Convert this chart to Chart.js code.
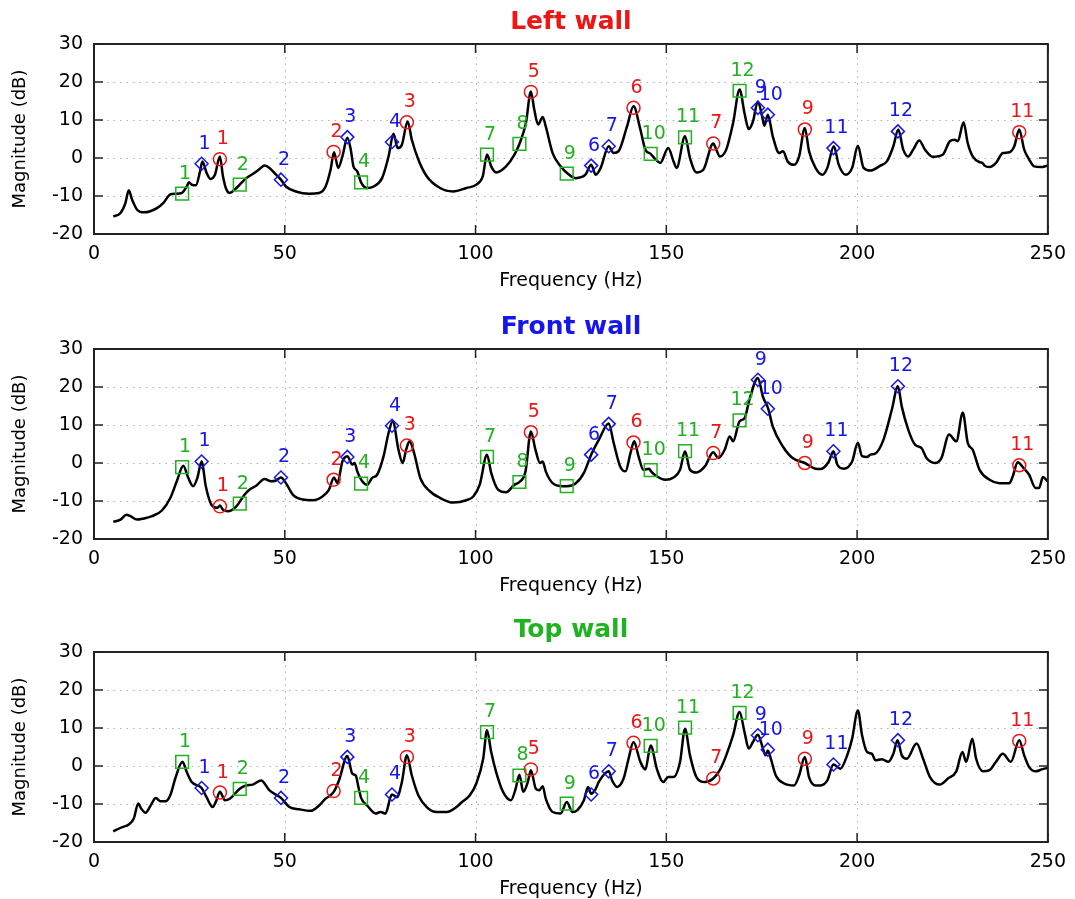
<!DOCTYPE html>
<html>
<head>
<meta charset="utf-8">
<script src="https://cdn.jsdelivr.net/npm/chart.js@4.4.1/dist/chart.umd.min.js"></script>
<style>
  body { margin: 0; background: #fff; overflow: hidden; }
  canvas { position: absolute; left: 0; }
</style>
</head>
<body>
<canvas id="left" width="1075" height="300" style="top:0px"></canvas>
<canvas id="front" width="1075" height="300" style="top:305px"></canvas>
<canvas id="top" width="1075" height="300" style="top:608px"></canvas>
<script>
// frequency response curves (Hz, dB)
const leftFreq = [5.05, 6.95, 8.25, 9.1, 10.0, 11.3, 13.0, 14.76, 16.5, 18.2, 20.0, 21.3, 23.0, 24.3, 24.9, 25.6, 26.7, 27.8, 28.4, 29.5, 30.5, 31.7, 33.0, 33.8, 34.7, 35.6, 37.3, 38.2, 39.9, 42.1, 43.4, 44.7, 46.0, 47.7, 49.0, 50.3, 52.9, 56.4, 59.0, 60.7, 62.0, 62.9, 64.0, 65.1, 66.4, 67.3, 68.0, 69.0, 70.0, 71.6, 73.3, 75.5, 77.2, 78.5, 79.6, 80.7, 82.2, 83.3, 85.0, 87.2, 90.7, 94.1, 97.6, 100.2, 101.9, 103.0, 104.1, 105.4, 108.0, 110.2, 111.5, 113.2, 114.5, 115.4, 116.4, 117.6, 118.4, 120.2, 122.3, 123.9, 126.2, 128.8, 130.3, 131.5, 132.8, 134.9, 136.2, 137.5, 139.7, 141.4, 143.2, 144.5, 145.9, 147.1, 148.4, 150.5, 151.9, 152.7, 154.9, 156.2, 157.9, 159.7, 162.3, 163.1, 164.0, 165.7, 167.5, 169.2, 170.5, 171.6, 172.7, 174.0, 175.1, 175.7, 176.6, 177.9, 179.6, 180.6, 181.8, 183.5, 184.8, 186.3, 187.4, 189.1, 190.9, 192.2, 193.9, 195.2, 197.0, 198.7, 200.2, 201.7, 203.5, 206.1, 207.8, 209.5, 210.8, 212.1, 213.4, 214.7, 216.3, 217.8, 219.9, 222.5, 224.3, 225.6, 226.4, 227.9, 229.0, 230.3, 232.1, 232.9, 233.4, 234.7, 236.4, 238.2, 239.9, 241.2, 242.5, 243.8, 245.1, 246.4, 248.2, 249.9]
const leftMag = [-15.4, -14.5, -11.8, -8.5, -11, -13.6, -14.3, -14.0, -13.2, -11.8, -9.6, -9.4, -9.2, -7.5, -6.4, -7.0, -7.2, -3.5, -0.9, -3.9, -5.5, -4.4, 0.4, -4.8, -8.3, -9.2, -7.9, -7.0, -5.3, -3.9, -2.9, -2.0, -2.6, -4.4, -5.7, -7.5, -8.8, -9.4, -9.2, -7.5, -3.1, 1.5, -2.6, 0.4, 5.3, 2.2, -2.2, -3.5, -6.4, -7.9, -7.5, -5.3, 0.4, 6.4, 2.6, 3.5, 9.6, 4.8, -0.4, -4.8, -7.9, -8.8, -7.9, -7.0, -4.8, 0.9, -2.2, -3.8, -2.2, 0.9, 3.7, 9.2, 17.5, 12.7, 8.8, 10.8, 8.3, 1.3, -2.2, -3.9, -5.3, -4.4, -1.8, -4.4, -2.6, 3.1, 1.3, 1.8, 8.3, 13.6, 7.5, 2.2, 1.1, -0.3, -1.3, 2.6, -0.9, -2.6, 5.7, 0, -3.8, -3.1, 3.8, 2.2, 0.4, 2.2, 9.2, 18.0, 11.8, 7.6, 9.6, 14.9, 11.0, 8.5, 11.4, 5.7, 1.3, 1.8, -0.9, -1.8, 0.4, 7.9, 1.8, -2.6, -4.4, -2.6, 3.1, -1.8, -4.4, -2.6, 3.2, -2.6, -3.3, -2.0, -0.9, 3.1, 7.5, 2.2, 0.4, 2.2, 4.6, 2.2, 0.3, 0.9, 4.4, 4.8, 4.4, 9.4, 3.9, 0.4, -1.1, -1.3, -2.0, -2.4, -1.3, 1.3, 1.5, 3.1, 7.5, 2.2, -0.4, -2.2, -2.4, -2.0]

const frontFreq = [5.05, 6.95, 8.5, 9.55, 11.3, 13.0, 15.2, 17.8, 20.0, 21.7, 23.4, 24.7, 26.0, 27.1, 28.2, 29.3, 30.8, 32.3, 33.0, 33.8, 35.1, 37.3, 39.5, 40.8, 42.5, 44.7, 46.4, 47.7, 49.0, 50.3, 52.1, 54.7, 57.3, 59.9, 61.6, 62.9, 63.8, 65.1, 66.4, 67.7, 68.3, 69.0, 70.3, 71.6, 72.9, 74.2, 75.9, 77.2, 78.3, 79.8, 80.9, 81.8, 82.7, 83.9, 85.5, 88.1, 90.7, 94.1, 97.6, 99.4, 101.1, 103.0, 104.1, 105.9, 108.0, 110.2, 111.5, 113.1, 114.5, 115.7, 116.9, 117.6, 118.4, 120.2, 122.8, 123.9, 126.2, 128.4, 130.3, 132.3, 134.9, 136.2, 137.9, 139.3, 140.6, 141.6, 142.7, 144.0, 145.5, 146.0, 147.5, 149.7, 151.9, 153.6, 154.9, 156.2, 157.9, 160.1, 162.3, 163.6, 165.3, 166.6, 167.5, 169.2, 170.5, 171.8, 174.0, 175.3, 176.7, 177.9, 180.5, 183.1, 186.3, 189.1, 190.4, 192.6, 193.8, 194.8, 196.5, 198.7, 200.2, 201.3, 202.6, 203.5, 204.8, 206.9, 209.1, 210.7, 211.7, 213.4, 215.2, 216.9, 218.2, 220.4, 222.1, 224.1, 226.0, 227.7, 229.0, 230.3, 232.1, 234.7, 237.3, 239.9, 240.8, 242.1, 243.6, 245.1, 246.8, 247.7, 248.7, 249.9]
const frontMag = [-15.5, -14.9, -13.6, -14.0, -14.9, -14.6, -14.0, -12.5, -9.2, -4.8, -0.7, -3.9, -6.1, -3.9, 0.4, -6.1, -11.0, -11.8, -11.2, -12.3, -12.7, -11.4, -8.3, -7.0, -6.0, -4.2, -4.8, -4.6, -3.8, -5.3, -8.3, -9.6, -9.8, -8.8, -7.0, -3.8, -5.3, 0.4, 1.8, -0.4, 0, -2.2, -4.8, -5.7, -3.9, -3.1, 1.8, 7.9, 11.0, 3.5, 0, 3.5, 5.7, 2.6, -3.9, -7.5, -9.2, -10.4, -9.8, -8.8, -5.7, 2.2, -2.6, -7.0, -7.7, -5.7, -5.0, -2.2, 8.3, 3.5, 0, 0.4, -2.2, -5.3, -6.1, -6.1, -5.4, -2.6, 2.2, 6.1, 10.4, 5.3, -0.9, -2.2, 2.6, 5.7, 1.8, -1.8, -1.5, -2.2, -3.5, -4.4, -3.8, -1.8, 3.1, -1.8, -2.5, -0.9, 2.8, 1.3, 3.5, 7.0, 5.7, 11.0, 11.8, 16.7, 22.4, 17.5, 14.3, 9.6, 4.4, 1.3, 0, -1.5, -1.6, 0.4, 3.1, -0.4, -1.5, 0.4, 5.3, 1.8, 1.6, 2.2, 2.5, 6.1, 14.0, 20.2, 14.9, 8.8, 4.8, 3.9, 1.3, 0, 1.3, 7.5, 5.7, 13.2, 5.3, 3.5, -1.8, -4.4, -5.3, -5.3, -3.5, 0.2, -1.3, -3.1, -6.6, -6.6, -3.7, -4.8]

const topFreq = [5.05, 7.4, 9.1, 10.4, 11.6, 12.3, 13.5, 14.8, 16.2, 17.4, 18.7, 20.0, 21.3, 23.2, 24.3, 25.6, 28.2, 29.5, 31.1, 31.9, 33.0, 34.3, 35.6, 38.2, 39.9, 41.6, 43.8, 46.0, 49.0, 51.2, 53.8, 56.8, 59.0, 60.7, 62.0, 62.9, 64.2, 66.4, 67.7, 68.6, 69.4, 70.0, 71.6, 73.8, 75.1, 76.4, 77.7, 78.1, 79.4, 80.7, 82.0, 83.3, 85.0, 87.2, 89.8, 92.4, 95.0, 96.3, 98.5, 100.2, 102.0, 103.0, 104.1, 105.4, 107.2, 109.3, 110.5, 111.5, 112.5, 113.7, 114.5, 115.8, 116.7, 117.6, 118.4, 120.2, 122.3, 123.9, 125.4, 126.7, 128.4, 129.5, 130.3, 131.5, 132.3, 134.9, 135.8, 137.1, 138.8, 140.1, 141.4, 143.2, 144.5, 145.9, 147.5, 149.2, 150.5, 151.9, 153.6, 154.9, 156.2, 157.9, 160.1, 162.3, 164.0, 165.7, 167.5, 169.2, 170.5, 171.6, 172.7, 174.0, 175.1, 176.0, 176.6, 177.4, 178.7, 180.9, 183.5, 184.8, 186.3, 187.4, 189.1, 190.4, 192.2, 193.8, 195.6, 197.4, 198.7, 200.2, 201.3, 202.6, 203.9, 204.8, 206.5, 208.2, 209.5, 210.6, 211.7, 213.0, 215.6, 217.3, 219.1, 221.7, 223.8, 226.0, 227.6, 228.6, 230.2, 231.2, 233.0, 234.7, 236.4, 238.2, 240.3, 242.5, 243.8, 245.1, 246.8, 248.4, 249.9]
const topMag = [-17.2, -16.1, -15.4, -13.9, -9.9, -11.1, -12.3, -10.5, -8.4, -9.3, -9.3, -7.7, -3.3, 1.1, -1.6, -4.2, -5.8, -8.2, -10.8, -9.5, -6.8, -9.0, -8.6, -6.0, -5.1, -4.9, -3.8, -6.4, -8.4, -10.8, -11.4, -11.8, -10.4, -8.6, -7.7, -6.7, -3.8, 2.6, -2.0, -2.5, -6.0, -8.4, -10.4, -12.5, -12.1, -12.5, -8.2, -7.5, -8.2, -4.2, 2.8, -2.5, -7.7, -10.8, -12.1, -12.1, -10.8, -9.6, -7.7, -4.6, 1.9, 9.4, 3.7, -1.6, -6.8, -9.0, -6.0, -2.3, -6.8, -4.2, -1.1, -6.0, -6.4, -5.3, -8.6, -12.1, -12.5, -9.5, -12.1, -11.6, -9.0, -5.5, -7.3, -6.0, -4.2, -1.4, -3.8, -5.5, -3.3, 1.9, 6.3, 1.1, -0.9, 5.4, -0.7, -4.2, -2.9, -2.9, 1.1, 9.8, 2.8, -2.9, -4.2, -3.3, -1.1, 2.8, 8.1, 14.2, 8.9, 4.6, 6.3, 8.2, 5.4, 2.8, 4.1, 1.9, -2.5, -4.6, -5.1, -2.5, 2.4, -2.9, -5.1, -5.1, -3.8, 0.4, -0.7, 2.8, 7.2, 14.6, 8.1, 3.7, 3.2, 1.5, 1.8, 1.1, 3.2, 6.8, 2.8, 1.9, 5.9, 1.9, -2.9, -4.9, -3.3, -1.4, 3.7, 1.1, 7.2, 1.9, -1.4, -1.1, 1.1, 3.2, 1.1, 6.8, 2.8, -0.3, -1.4, -0.9, -0.5]

// mode markers: frequencies and numbers
const redFreq = [33.0, 62.8, 82.0, 114.5, 141.4, 162.3, 186.3, 242.5]
const redLabels = ["1", "2", "3", "5", "6", "7", "9", "11"]
const blueFreq = [28.2, 49.0, 66.4, 78.1, 130.3, 134.9, 174.0, 176.6, 193.8, 210.7]
const blueLabels = ["1", "2", "3", "4", "6", "7", "9", "10", "11", "12"]
const greenFreq = [23.1, 38.2, 70.0, 103.0, 111.5, 123.9, 145.9, 154.9, 169.2]
const greenLabels = ["1", "2", "4", "7", "8", "9", "10", "11", "12"]

const leftRed = [-0.3, 1.6, 9.4, 17.4, 13.2, 3.8, 7.5, 6.8]
const leftBlue = [-1.5, -5.7, 5.5, 4.2, -2.0, 3.1, 13.2, 11.4, 2.6, 7.0]
const leftGreen = [-9.4, -7.0, -6.4, 0.9, 3.7, -4.1, 1.1, 5.4, 17.7]
const frontRed = [-11.4, -4.4, 4.6, 8.1, 5.4, 2.6, 0.0, -0.6]
const frontBlue = [0.4, -3.8, 1.6, 9.8, 2.2, 10.3, 21.9, 14.3, 3.1, 20.2]
const frontGreen = [-1.1, -10.7, -5.4, 1.6, -5.0, -6.1, -1.9, 3.1, 11.2]
const topRed = [-7.0, -6.6, 2.4, -0.9, 6.1, -3.3, 1.9, 6.6]
const topBlue = [-5.8, -8.4, 2.4, -7.5, -7.5, -1.4, 8.1, 4.3, 0.4, 6.8]
const topGreen = [1.1, -6.0, -8.4, 8.9, -2.5, -9.9, 5.3, 10.1, 14.0]

const RED = "#f01515"
const BLUE = "#1515f0"
const GREEN = "#1fb31f"
const FONT = "DejaVu Sans"

const toPoints = (xs, ys) => xs.map((x, i) => ({ x: x, y: ys[i] }))

// dotted grid, frame and inward ticks like the original plot
const frame = {
    id: "frame",
    beforeDatasetsDraw(chart) {
        const { ctx, chartArea: a, scales } = chart
        ctx.save()
        ctx.strokeStyle = "#b0b0b0"
        ctx.lineWidth = 1
        ctx.setLineDash([1.5, 5])
        ctx.beginPath()
        scales.x.ticks.forEach(t => {
            const x = Math.round(scales.x.getPixelForValue(t.value)) + 0.5
            ctx.moveTo(x, a.top); ctx.lineTo(x, a.bottom)
        })
        scales.y.ticks.forEach(t => {
            const y = Math.round(scales.y.getPixelForValue(t.value)) + 0.5
            ctx.moveTo(a.left, y); ctx.lineTo(a.right, y)
        })
        ctx.stroke()
        ctx.restore()
    },
    afterDraw(chart) {
        const { ctx, chartArea: a, scales } = chart
        ctx.save()
        ctx.strokeStyle = "#222"
        ctx.lineWidth = 2
        ctx.strokeRect(a.left, a.top, a.right - a.left, a.bottom - a.top)
        ctx.lineWidth = 1.5
        ctx.beginPath()
        scales.x.ticks.forEach(t => {
            const x = scales.x.getPixelForValue(t.value)
            ctx.moveTo(x, a.bottom); ctx.lineTo(x, a.bottom - 9)
            ctx.moveTo(x, a.top); ctx.lineTo(x, a.top + 9)
        })
        scales.y.ticks.forEach(t => {
            const y = scales.y.getPixelForValue(t.value)
            ctx.moveTo(a.left, y); ctx.lineTo(a.left + 9, y)
            ctx.moveTo(a.right, y); ctx.lineTo(a.right - 9, y)
        })
        ctx.stroke()
        ctx.restore()
    }
}

// panel title, centred over the plot area
const panelTitle = {
    id: "panelTitle",
    afterDraw(chart, args, opts) {
        const { ctx, chartArea: a } = chart
        ctx.save()
        ctx.font = "bold 25px " + FONT
        ctx.fillStyle = opts.color
        ctx.textAlign = "center"
        ctx.textBaseline = "middle"
        ctx.fillText(opts.text, (a.left + a.right) / 2, 22)
        ctx.restore()
    }
}

// mode numbers above the markers
const markerLabels = {
    id: "markerLabels",
    afterDatasetsDraw(chart) {
        const ctx = chart.ctx
        ctx.save()
        ctx.font = "19px " + FONT
        ctx.textAlign = "center"
        ctx.textBaseline = "middle"
        chart.data.datasets.forEach((ds, i) => {
            if (!ds.pointLabels) return
            ctx.fillStyle = ds.pointBorderColor
            chart.getDatasetMeta(i).data.forEach((pt, j) => {
                ctx.fillText(ds.pointLabels[j], pt.x + 3, pt.y - 20)
            })
        })
        ctx.restore()
    }
}

const markerSet = (freqs, values, labels, color, style, radius) => {
    return {
        data: toPoints(freqs, values),
        pointLabels: labels,
        showLine: false,
        pointStyle: style,
        pointRadius: radius,
        pointBorderColor: color,
        pointBackgroundColor: "rgba(0,0,0,0)",
        pointBorderWidth: 1.5,
        borderColor: color
    }
}

const createPanel = (id, title, titleColor, freq, mag, red, blue, green) => {
    const ctx = document.getElementById(id).getContext("2d")

    const datasets = [
        markerSet(redFreq, red, redLabels, RED, "circle", 6.5),
        markerSet(blueFreq, blue, blueLabels, BLUE, "rectRot", 6.5),
        markerSet(greenFreq, green, greenLabels, GREEN, "rect", 9),
        {
            data: toPoints(freq, mag),
            borderColor: "#000",
            borderWidth: 2.5,
            pointRadius: 0,
            cubicInterpolationMode: "monotone",
            fill: false
        }
    ]

    const config = {
        type: "line",
        data: { datasets: datasets },
        options: {
            responsive: false,
            animation: false,
            layout: { padding: { left: 0, right: 22, top: 44, bottom: 0 } },
            plugins: {
                legend: { display: false },
                tooltip: { enabled: false },
                title: { display: false },
                panelTitle: { text: title, color: titleColor }
            },
            scales: {
                x: {
                    type: "linear",
                    min: 0,
                    max: 250,
                    afterFit: (scale) => { scale.height = 66 },
                    ticks: { stepSize: 50, color: "#000", font: { family: FONT, size: 19 }, padding: 9, maxRotation: 0 },
                    grid: { display: false, drawTicks: false },
                    border: { display: false },
                    title: { display: true, text: "Frequency (Hz)", color: "#000", font: { family: FONT, size: 19 }, padding: { top: 0, bottom: 7.6 } }
                },
                y: {
                    min: -20,
                    max: 30,
                    afterFit: (scale) => { scale.width = 94 },
                    ticks: { stepSize: 10, color: "#000", font: { family: FONT, size: 19 }, padding: 11 },
                    grid: { display: false, drawTicks: false },
                    border: { display: false },
                    title: { display: true, text: "Magnitude (dB)", color: "#000", font: { family: FONT, size: 18 }, padding: { top: 9.2, bottom: 0 } }
                }
            }
        },
        plugins: [frame, panelTitle, markerLabels]
    }

    return new Chart(ctx, config)
}

createPanel("left", "Left wall", RED, leftFreq, leftMag, leftRed, leftBlue, leftGreen)
createPanel("front", "Front wall", BLUE, frontFreq, frontMag, frontRed, frontBlue, frontGreen)
createPanel("top", "Top wall", GREEN, topFreq, topMag, topRed, topBlue, topGreen)
</script>
</body>
</html>
